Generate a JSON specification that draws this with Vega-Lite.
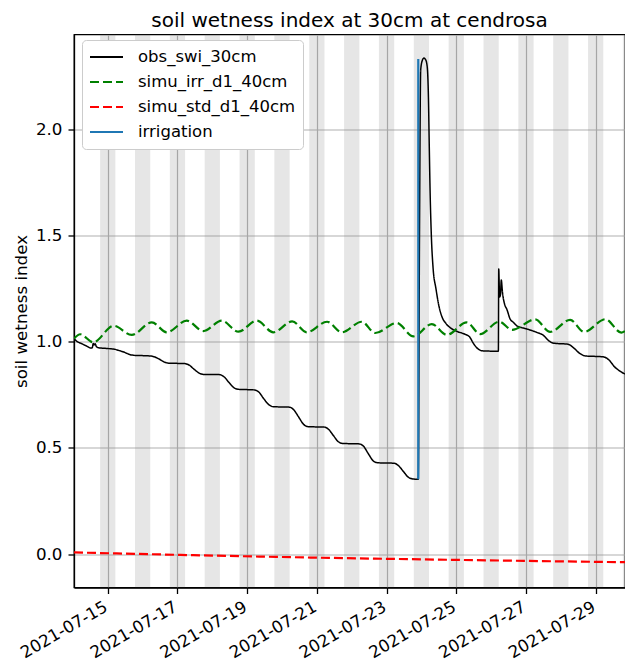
{
  "$schema": "https://vega.github.io/schema/vega-lite/v6.json",
  "width": 551,
  "height": 553,
  "autosize": "none",
  "padding": {"left": 74, "top": 34.5, "right": 0, "bottom": 75},
  "config": {
    "font": "DejaVu Sans",
    "view": {"stroke": "#000000", "strokeWidth": 1.3},
    "axis": {
      "grid": true,
      "gridColor": "#b0b0b0",
      "gridWidth": 1.2,
      "domainColor": "#000000",
      "domainWidth": 1.3,
      "tickColor": "#000000",
      "tickWidth": 1.3,
      "tickSize": 6,
      "labelColor": "#000000",
      "labelFontSize": 16.7,
      "titleColor": "#000000",
      "titleFontSize": 16.7,
      "titleFontWeight": "normal"
    },
    "legend": {
      "symbolType": "stroke",
      "symbolSize": 1089,
      "symbolStrokeWidth": 2,
      "labelFontSize": 16.5,
      "labelColor": "#000000",
      "labelOffset": 14,
      "labelLimit": 300,
      "padding": 7,
      "rowPadding": 5,
      "clipHeight": 20,
      "fillColor": "#ffffff",
      "strokeColor": "#cccccc",
      "cornerRadius": 4
    }
  },
  "title": {
    "text": "soil wetness index at 30cm at cendrosa",
    "fontSize": 20,
    "fontWeight": "normal",
    "color": "#000000",
    "anchor": "middle",
    "frame": "group",
    "baseline": "alphabetic",
    "offset": 8,
    "dy": 20
  },
  "datasets": {
    "nights": [
      {"t": "2021-07-14T18:45:00Z", "t2": "2021-07-15T05:15:00Z"},
      {"t": "2021-07-15T18:45:00Z", "t2": "2021-07-16T05:15:00Z"},
      {"t": "2021-07-16T18:45:00Z", "t2": "2021-07-17T05:15:00Z"},
      {"t": "2021-07-17T18:45:00Z", "t2": "2021-07-18T05:15:00Z"},
      {"t": "2021-07-18T18:45:00Z", "t2": "2021-07-19T05:15:00Z"},
      {"t": "2021-07-19T18:45:00Z", "t2": "2021-07-20T05:15:00Z"},
      {"t": "2021-07-20T18:45:00Z", "t2": "2021-07-21T05:15:00Z"},
      {"t": "2021-07-21T18:45:00Z", "t2": "2021-07-22T05:15:00Z"},
      {"t": "2021-07-22T18:45:00Z", "t2": "2021-07-23T05:15:00Z"},
      {"t": "2021-07-23T18:45:00Z", "t2": "2021-07-24T05:15:00Z"},
      {"t": "2021-07-24T18:45:00Z", "t2": "2021-07-25T05:15:00Z"},
      {"t": "2021-07-25T18:45:00Z", "t2": "2021-07-26T05:15:00Z"},
      {"t": "2021-07-26T18:45:00Z", "t2": "2021-07-27T05:15:00Z"},
      {"t": "2021-07-27T18:45:00Z", "t2": "2021-07-28T05:15:00Z"},
      {"t": "2021-07-28T18:45:00Z", "t2": "2021-07-29T05:15:00Z"},
      {"t": "2021-07-29T18:45:00Z", "t2": "2021-07-30T05:15:00Z"}
    ],
    "obs": [
      {"series": "obs_swi_30cm", "t": "2021-07-14T00:45:00Z", "v": 1.015},
      {"series": "obs_swi_30cm", "t": "2021-07-14T03:00:00Z", "v": 1.0},
      {"series": "obs_swi_30cm", "t": "2021-07-14T05:00:00Z", "v": 0.994},
      {"series": "obs_swi_30cm", "t": "2021-07-14T09:00:00Z", "v": 0.981},
      {"series": "obs_swi_30cm", "t": "2021-07-14T12:30:00Z", "v": 0.970},
      {"series": "obs_swi_30cm", "t": "2021-07-14T13:20:00Z", "v": 0.971},
      {"series": "obs_swi_30cm", "t": "2021-07-14T14:00:00Z", "v": 0.992},
      {"series": "obs_swi_30cm", "t": "2021-07-14T14:40:00Z", "v": 0.985},
      {"series": "obs_swi_30cm", "t": "2021-07-14T15:20:00Z", "v": 0.990},
      {"series": "obs_swi_30cm", "t": "2021-07-14T16:10:00Z", "v": 0.977},
      {"series": "obs_swi_30cm", "t": "2021-07-14T18:00:00Z", "v": 0.971},
      {"series": "obs_swi_30cm", "t": "2021-07-15T00:00:00Z", "v": 0.968},
      {"series": "obs_swi_30cm", "t": "2021-07-15T05:00:00Z", "v": 0.964},
      {"series": "obs_swi_30cm", "t": "2021-07-15T08:00:00Z", "v": 0.958},
      {"series": "obs_swi_30cm", "t": "2021-07-15T11:30:00Z", "v": 0.950},
      {"series": "obs_swi_30cm", "t": "2021-07-15T15:00:00Z", "v": 0.940},
      {"series": "obs_swi_30cm", "t": "2021-07-15T18:00:00Z", "v": 0.936},
      {"series": "obs_swi_30cm", "t": "2021-07-16T05:00:00Z", "v": 0.933},
      {"series": "obs_swi_30cm", "t": "2021-07-16T08:00:00Z", "v": 0.929},
      {"series": "obs_swi_30cm", "t": "2021-07-16T11:30:00Z", "v": 0.918},
      {"series": "obs_swi_30cm", "t": "2021-07-16T15:00:00Z", "v": 0.904},
      {"series": "obs_swi_30cm", "t": "2021-07-16T18:00:00Z", "v": 0.899},
      {"series": "obs_swi_30cm", "t": "2021-07-17T05:00:00Z", "v": 0.897},
      {"series": "obs_swi_30cm", "t": "2021-07-17T08:00:00Z", "v": 0.890},
      {"series": "obs_swi_30cm", "t": "2021-07-17T11:30:00Z", "v": 0.870},
      {"series": "obs_swi_30cm", "t": "2021-07-17T15:00:00Z", "v": 0.852},
      {"series": "obs_swi_30cm", "t": "2021-07-17T18:00:00Z", "v": 0.846},
      {"series": "obs_swi_30cm", "t": "2021-07-18T05:00:00Z", "v": 0.845},
      {"series": "obs_swi_30cm", "t": "2021-07-18T08:00:00Z", "v": 0.835},
      {"series": "obs_swi_30cm", "t": "2021-07-18T11:30:00Z", "v": 0.808},
      {"series": "obs_swi_30cm", "t": "2021-07-18T15:00:00Z", "v": 0.783},
      {"series": "obs_swi_30cm", "t": "2021-07-18T18:00:00Z", "v": 0.776},
      {"series": "obs_swi_30cm", "t": "2021-07-19T05:00:00Z", "v": 0.773},
      {"series": "obs_swi_30cm", "t": "2021-07-19T08:00:00Z", "v": 0.763},
      {"series": "obs_swi_30cm", "t": "2021-07-19T11:30:00Z", "v": 0.731},
      {"series": "obs_swi_30cm", "t": "2021-07-19T15:00:00Z", "v": 0.703},
      {"series": "obs_swi_30cm", "t": "2021-07-19T18:00:00Z", "v": 0.694},
      {"series": "obs_swi_30cm", "t": "2021-07-20T05:00:00Z", "v": 0.692},
      {"series": "obs_swi_30cm", "t": "2021-07-20T08:00:00Z", "v": 0.680},
      {"series": "obs_swi_30cm", "t": "2021-07-20T11:30:00Z", "v": 0.645},
      {"series": "obs_swi_30cm", "t": "2021-07-20T15:00:00Z", "v": 0.610},
      {"series": "obs_swi_30cm", "t": "2021-07-20T18:00:00Z", "v": 0.600},
      {"series": "obs_swi_30cm", "t": "2021-07-21T05:00:00Z", "v": 0.598},
      {"series": "obs_swi_30cm", "t": "2021-07-21T08:00:00Z", "v": 0.588},
      {"series": "obs_swi_30cm", "t": "2021-07-21T11:30:00Z", "v": 0.557},
      {"series": "obs_swi_30cm", "t": "2021-07-21T15:00:00Z", "v": 0.528},
      {"series": "obs_swi_30cm", "t": "2021-07-21T18:00:00Z", "v": 0.521},
      {"series": "obs_swi_30cm", "t": "2021-07-22T05:00:00Z", "v": 0.519},
      {"series": "obs_swi_30cm", "t": "2021-07-22T08:00:00Z", "v": 0.509},
      {"series": "obs_swi_30cm", "t": "2021-07-22T11:30:00Z", "v": 0.472},
      {"series": "obs_swi_30cm", "t": "2021-07-22T15:00:00Z", "v": 0.438},
      {"series": "obs_swi_30cm", "t": "2021-07-22T18:00:00Z", "v": 0.430},
      {"series": "obs_swi_30cm", "t": "2021-07-23T05:00:00Z", "v": 0.428},
      {"series": "obs_swi_30cm", "t": "2021-07-23T08:00:00Z", "v": 0.418},
      {"series": "obs_swi_30cm", "t": "2021-07-23T11:30:00Z", "v": 0.390},
      {"series": "obs_swi_30cm", "t": "2021-07-23T15:00:00Z", "v": 0.362},
      {"series": "obs_swi_30cm", "t": "2021-07-23T18:00:00Z", "v": 0.354},
      {"series": "obs_swi_30cm", "t": "2021-07-23T21:50:00Z", "v": 0.352},
      {"series": "obs_swi_30cm", "t": "2021-07-23T22:40:00Z", "v": 1.5},
      {"series": "obs_swi_30cm", "t": "2021-07-23T23:30:00Z", "v": 2.28},
      {"series": "obs_swi_30cm", "t": "2021-07-24T00:40:00Z", "v": 2.325},
      {"series": "obs_swi_30cm", "t": "2021-07-24T01:40:00Z", "v": 2.335},
      {"series": "obs_swi_30cm", "t": "2021-07-24T02:40:00Z", "v": 2.33},
      {"series": "obs_swi_30cm", "t": "2021-07-24T03:40:00Z", "v": 2.31},
      {"series": "obs_swi_30cm", "t": "2021-07-24T04:20:00Z", "v": 2.26},
      {"series": "obs_swi_30cm", "t": "2021-07-24T04:50:00Z", "v": 2.15},
      {"series": "obs_swi_30cm", "t": "2021-07-24T05:20:00Z", "v": 1.95},
      {"series": "obs_swi_30cm", "t": "2021-07-24T06:00:00Z", "v": 1.7},
      {"series": "obs_swi_30cm", "t": "2021-07-24T06:50:00Z", "v": 1.5},
      {"series": "obs_swi_30cm", "t": "2021-07-24T08:00:00Z", "v": 1.35},
      {"series": "obs_swi_30cm", "t": "2021-07-24T10:00:00Z", "v": 1.25},
      {"series": "obs_swi_30cm", "t": "2021-07-24T12:00:00Z", "v": 1.17},
      {"series": "obs_swi_30cm", "t": "2021-07-24T14:00:00Z", "v": 1.12},
      {"series": "obs_swi_30cm", "t": "2021-07-24T17:00:00Z", "v": 1.085},
      {"series": "obs_swi_30cm", "t": "2021-07-24T20:00:00Z", "v": 1.065},
      {"series": "obs_swi_30cm", "t": "2021-07-25T00:00:00Z", "v": 1.05},
      {"series": "obs_swi_30cm", "t": "2021-07-25T06:00:00Z", "v": 1.035},
      {"series": "obs_swi_30cm", "t": "2021-07-25T09:00:00Z", "v": 1.024},
      {"series": "obs_swi_30cm", "t": "2021-07-25T12:00:00Z", "v": 0.99},
      {"series": "obs_swi_30cm", "t": "2021-07-25T15:00:00Z", "v": 0.966},
      {"series": "obs_swi_30cm", "t": "2021-07-25T18:00:00Z", "v": 0.957},
      {"series": "obs_swi_30cm", "t": "2021-07-26T05:00:00Z", "v": 0.955},
      {"series": "obs_swi_30cm", "t": "2021-07-26T05:15:00Z", "v": 1.342},
      {"series": "obs_swi_30cm", "t": "2021-07-26T05:50:00Z", "v": 1.21},
      {"series": "obs_swi_30cm", "t": "2021-07-26T06:25:00Z", "v": 1.22},
      {"series": "obs_swi_30cm", "t": "2021-07-26T07:00:00Z", "v": 1.29},
      {"series": "obs_swi_30cm", "t": "2021-07-26T07:50:00Z", "v": 1.232},
      {"series": "obs_swi_30cm", "t": "2021-07-26T09:35:00Z", "v": 1.17},
      {"series": "obs_swi_30cm", "t": "2021-07-26T10:45:00Z", "v": 1.154},
      {"series": "obs_swi_30cm", "t": "2021-07-26T13:05:00Z", "v": 1.107},
      {"series": "obs_swi_30cm", "t": "2021-07-26T15:20:00Z", "v": 1.091},
      {"series": "obs_swi_30cm", "t": "2021-07-26T17:40:00Z", "v": 1.075},
      {"series": "obs_swi_30cm", "t": "2021-07-27T00:35:00Z", "v": 1.06},
      {"series": "obs_swi_30cm", "t": "2021-07-27T07:25:00Z", "v": 1.044},
      {"series": "obs_swi_30cm", "t": "2021-07-27T12:00:00Z", "v": 1.03},
      {"series": "obs_swi_30cm", "t": "2021-07-27T16:00:00Z", "v": 1.003},
      {"series": "obs_swi_30cm", "t": "2021-07-27T19:00:00Z", "v": 0.993},
      {"series": "obs_swi_30cm", "t": "2021-07-28T05:00:00Z", "v": 0.988},
      {"series": "obs_swi_30cm", "t": "2021-07-28T09:00:00Z", "v": 0.97},
      {"series": "obs_swi_30cm", "t": "2021-07-28T13:00:00Z", "v": 0.945},
      {"series": "obs_swi_30cm", "t": "2021-07-28T17:00:00Z", "v": 0.933},
      {"series": "obs_swi_30cm", "t": "2021-07-29T05:00:00Z", "v": 0.929},
      {"series": "obs_swi_30cm", "t": "2021-07-29T09:00:00Z", "v": 0.915},
      {"series": "obs_swi_30cm", "t": "2021-07-29T13:00:00Z", "v": 0.882},
      {"series": "obs_swi_30cm", "t": "2021-07-29T17:00:00Z", "v": 0.86},
      {"series": "obs_swi_30cm", "t": "2021-07-29T20:12:00Z", "v": 0.848}
    ],
    "simu": [
      {"series": "simu_irr_d1_40cm", "t": "2021-07-14T00:45:00Z", "v": 1.015},
      {"series": "simu_irr_d1_40cm", "t": "2021-07-14T05:00:00Z", "v": 1.035},
      {"series": "simu_irr_d1_40cm", "t": "2021-07-14T14:00:00Z", "v": 0.997},
      {"series": "simu_irr_d1_40cm", "t": "2021-07-15T04:00:00Z", "v": 1.075},
      {"series": "simu_irr_d1_40cm", "t": "2021-07-15T16:30:00Z", "v": 1.032},
      {"series": "simu_irr_d1_40cm", "t": "2021-07-16T06:20:00Z", "v": 1.091},
      {"series": "simu_irr_d1_40cm", "t": "2021-07-16T16:40:00Z", "v": 1.044},
      {"series": "simu_irr_d1_40cm", "t": "2021-07-17T06:25:00Z", "v": 1.099},
      {"series": "simu_irr_d1_40cm", "t": "2021-07-17T17:50:00Z", "v": 1.050},
      {"series": "simu_irr_d1_40cm", "t": "2021-07-18T06:30:00Z", "v": 1.099},
      {"series": "simu_irr_d1_40cm", "t": "2021-07-18T18:00:00Z", "v": 1.047},
      {"series": "simu_irr_d1_40cm", "t": "2021-07-19T06:40:00Z", "v": 1.099},
      {"series": "simu_irr_d1_40cm", "t": "2021-07-19T18:00:00Z", "v": 1.044},
      {"series": "simu_irr_d1_40cm", "t": "2021-07-20T07:00:00Z", "v": 1.096},
      {"series": "simu_irr_d1_40cm", "t": "2021-07-20T17:00:00Z", "v": 1.044},
      {"series": "simu_irr_d1_40cm", "t": "2021-07-21T07:00:00Z", "v": 1.094},
      {"series": "simu_irr_d1_40cm", "t": "2021-07-21T17:10:00Z", "v": 1.044},
      {"series": "simu_irr_d1_40cm", "t": "2021-07-22T06:55:00Z", "v": 1.094},
      {"series": "simu_irr_d1_40cm", "t": "2021-07-22T16:10:00Z", "v": 1.041},
      {"series": "simu_irr_d1_40cm", "t": "2021-07-23T07:00:00Z", "v": 1.088},
      {"series": "simu_irr_d1_40cm", "t": "2021-07-23T18:30:00Z", "v": 1.025},
      {"series": "simu_irr_d1_40cm", "t": "2021-07-24T07:10:00Z", "v": 1.083},
      {"series": "simu_irr_d1_40cm", "t": "2021-07-24T17:30:00Z", "v": 1.032},
      {"series": "simu_irr_d1_40cm", "t": "2021-07-25T07:10:00Z", "v": 1.091},
      {"series": "simu_irr_d1_40cm", "t": "2021-07-25T16:30:00Z", "v": 1.036},
      {"series": "simu_irr_d1_40cm", "t": "2021-07-26T05:30:00Z", "v": 1.094},
      {"series": "simu_irr_d1_40cm", "t": "2021-07-26T14:30:00Z", "v": 1.056},
      {"series": "simu_irr_d1_40cm", "t": "2021-07-27T06:20:00Z", "v": 1.105},
      {"series": "simu_irr_d1_40cm", "t": "2021-07-27T16:40:00Z", "v": 1.046},
      {"series": "simu_irr_d1_40cm", "t": "2021-07-28T06:25:00Z", "v": 1.103},
      {"series": "simu_irr_d1_40cm", "t": "2021-07-28T16:00:00Z", "v": 1.046},
      {"series": "simu_irr_d1_40cm", "t": "2021-07-29T06:40:00Z", "v": 1.106},
      {"series": "simu_irr_d1_40cm", "t": "2021-07-29T17:40:00Z", "v": 1.043},
      {"series": "simu_irr_d1_40cm", "t": "2021-07-29T20:12:00Z", "v": 1.05},
      {"series": "simu_std_d1_40cm", "t": "2021-07-14T00:45:00Z", "v": 0.008},
      {"series": "simu_std_d1_40cm", "t": "2021-07-20T19:40:00Z", "v": -0.016},
      {"series": "simu_std_d1_40cm", "t": "2021-07-25T00:00:00Z", "v": -0.027},
      {"series": "simu_std_d1_40cm", "t": "2021-07-29T20:12:00Z", "v": -0.038}
    ],
    "irr": [
      {"series": "irrigation", "t": "2021-07-23T21:50:00Z", "v": 0.353},
      {"series": "irrigation", "t": "2021-07-23T21:50:00Z", "v": 2.331}
    ]
  },
  "layer": [
    {
      "data": {"name": "nights"},
      "mark": {"type": "rect", "color": "#808080", "opacity": 0.2, "clip": true},
      "encoding": {
        "x": {
          "field": "t", "type": "temporal",
          "scale": {"type": "utc", "nice": false, "domain": [
            {"year": 2021, "month": 7, "date": 14, "hours": 0, "minutes": 45, "utc": true},
            {"year": 2021, "month": 7, "date": 29, "hours": 20, "minutes": 12, "utc": true}]},
          "axis": {
            "title": null,
            "format": "%Y-%m-%d",
            "values": [
              {"year": 2021, "month": 7, "date": 15, "utc": true},
              {"year": 2021, "month": 7, "date": 17, "utc": true},
              {"year": 2021, "month": 7, "date": 19, "utc": true},
              {"year": 2021, "month": 7, "date": 21, "utc": true},
              {"year": 2021, "month": 7, "date": 23, "utc": true},
              {"year": 2021, "month": 7, "date": 25, "utc": true},
              {"year": 2021, "month": 7, "date": 27, "utc": true},
              {"year": 2021, "month": 7, "date": 29, "utc": true}],
            "labelAngle": 330,
            "labelAlign": "right",
            "labelBaseline": "top",
            "labelPadding": 5,
            "labelOffset": -6,
            "labelOverlap": false,
            "labelBound": false,
            "labelFlush": false
          }
        },
        "x2": {"field": "t2"}
      }
    },
    {
      "data": {"name": "obs"},
      "mark": {"type": "line", "interpolate": "monotone", "strokeWidth": 1.5, "clip": true},
      "encoding": {
        "x": {"field": "t", "type": "temporal"},
        "y": {
          "field": "v", "type": "quantitative",
          "scale": {"domain": [-0.157, 2.446], "nice": false, "zero": false},
          "axis": {
            "title": "soil wetness index",
            "values": [0, 0.5, 1, 1.5, 2],
            "format": ".1f",
            "labelPadding": 6,
            "titleAngle": -90,
            "titleX": -48,
            "titleY": 276.5,
            "titleAlign": "center",
            "titleBaseline": "alphabetic"
          }
        },
        "color": {
          "field": "series", "type": "nominal",
          "scale": {"domain": ["obs_swi_30cm", "simu_irr_d1_40cm", "simu_std_d1_40cm", "irrigation"],
                    "range": ["#000000", "#008000", "#ff0000", "#1f77b4"]},
          "legend": {"title": null, "orient": "none", "legendX": 8, "legendY": 5.5}
        },
        "strokeDash": {
          "field": "series", "type": "nominal",
          "scale": {"domain": ["obs_swi_30cm", "simu_irr_d1_40cm", "simu_std_d1_40cm", "irrigation"],
                    "range": [[1, 0], [9, 4], [9, 4], [1, 0]]},
          "legend": {"title": null, "orient": "none", "legendX": 8, "legendY": 5.5}
        }
      }
    },
    {
      "data": {"name": "simu"},
      "mark": {"type": "line", "interpolate": "monotone", "strokeWidth": 2.2, "clip": true},
      "encoding": {
        "x": {"field": "t", "type": "temporal"},
        "y": {"field": "v", "type": "quantitative"},
        "color": {"field": "series", "type": "nominal"},
        "strokeDash": {"field": "series", "type": "nominal"}
      }
    },
    {
      "data": {"name": "irr"},
      "mark": {"type": "line", "strokeWidth": 2.2, "clip": true},
      "encoding": {
        "x": {"field": "t", "type": "temporal"},
        "y": {"field": "v", "type": "quantitative"},
        "color": {"field": "series", "type": "nominal"},
        "strokeDash": {"field": "series", "type": "nominal"}
      }
    }
  ]
}
